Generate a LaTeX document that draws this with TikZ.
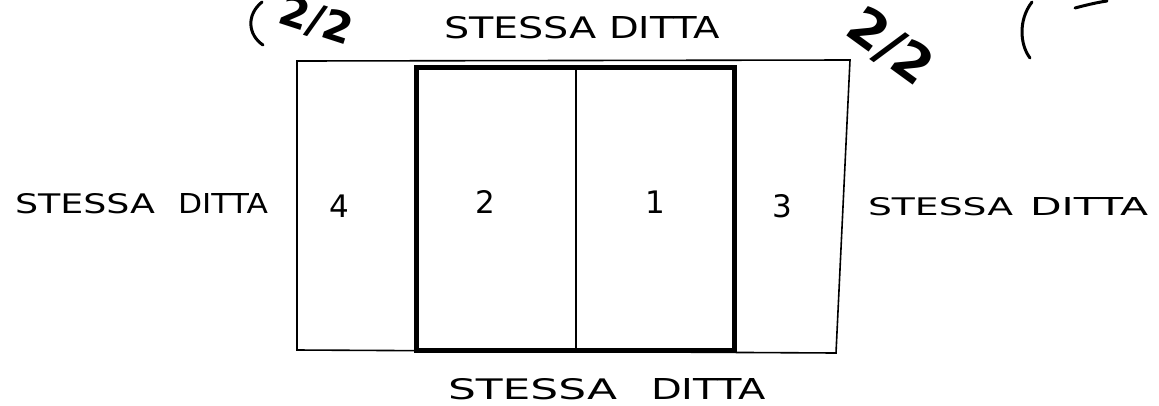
\documentclass[tikz,border=0pt]{standalone}
\usepackage{fontspec}
\usepackage{graphicx}
\newfontfamily\handfont{DejaVu Sans}
\newfontfamily\stampfont{DejaVu Sans}
\newcommand{\twoword}[6]{\resizebox{#1}{#5}{\handfont #2}\hspace{#3}\resizebox{#4}{#5}{\handfont #6}}
\tikzset{
  thinline/.style={line width=1.6pt, line join=miter},
  thickline/.style={line width=5pt, line join=miter},
  lab/.style={inner sep=0pt, outer sep=0pt, anchor=base west},
  num/.style={inner sep=0pt, font=\handfont\fontsize{31}{31}\selectfont},
  stamp/.style={inner sep=0pt, font=\stampfont\bfseries\fontsize{#1}{#1}\selectfont},
}
\begin{document}
\begin{tikzpicture}[x=1pt,y=-1pt]
\useasboundingbox (0,0) rectangle (1159,405);
\clip (0,0) rectangle (1159,405);
% corners of the outer outline
\coordinate (otl) at (297,61);
\coordinate (otr) at (850,60);
\coordinate (obr) at (836,353);
\coordinate (obl) at (297,350);
% thick central block
\coordinate (ttl) at (416,67);
\coordinate (tbr) at (734,350);
\coordinate (mt) at (576,67);
\coordinate (mb) at (576,350);
\draw[thinline] (otl) -- (otr) -- (obr) -- (obl) -- cycle;
\draw[thinline] (mt) -- (mb);
\draw[thickline] (ttl) rectangle (tbr);
% cell numbers
\node[num] (c4) at (339,206) {4};
\node[num] (c2) at (485,202) {2};
\node[num] (c1) at (655,202) {1};
\node[num] (c3) at (782,206) {3};
% labels
\node[lab] (ltop) at (444,38) {\twoword{153pt}{STESSA}{12pt}{111pt}{22pt}{DITTA}};
\node[lab] (lbot) at (448,399) {\twoword{169pt}{STESSA}{34pt}{115pt}{21pt}{DITTA}};
\node[lab] (lleft) at (15,213) {\twoword{140pt}{STESSA}{23pt}{90pt}{20pt}{DITTA}};
\node[lab] (lright) at (868,215) {\twoword{145pt}{STESSA}{17pt}{118pt}{18pt}{DITTA}};
% handwritten stamps
\node[stamp=42, rotate=-18] (s1) at (316,21) {2/2};
\draw[line width=3pt, line cap=round] (262,2) .. controls (246,15) and (248,35) .. (263,45);
\node[stamp=52, rotate=-36] (s2) at (890,47) {2/2};
\draw[line width=3pt, line cap=round] (1032,2) .. controls (1018,20) and (1020,45) .. (1030,58);
\draw[line width=3pt, line cap=round] (1075,8) .. controls (1090,4) and (1100,2) .. (1107,1);
\end{tikzpicture}
\end{document}
